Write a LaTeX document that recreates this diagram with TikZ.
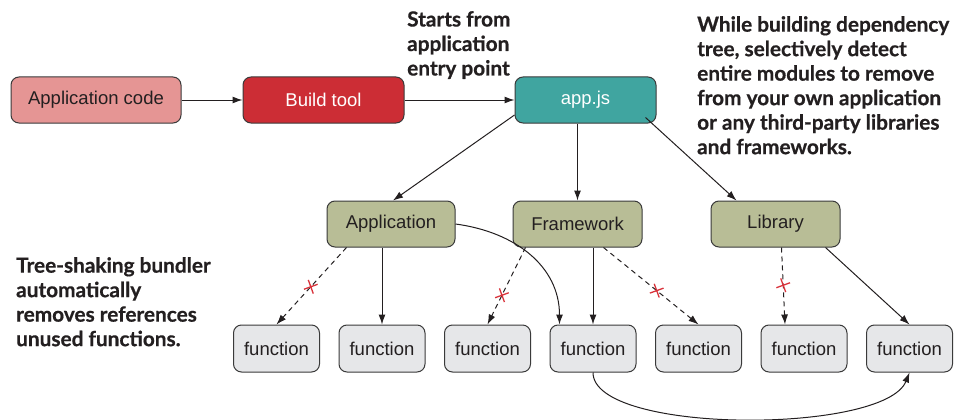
\documentclass[tikz,border=0pt]{standalone}
\usepackage{fontspec}
\setmainfont{Liberation Sans}
\newfontfamily\notefamily{Lato}[BoldFeatures={FakeBold=0.6}]
\usepackage{xcolor}
\usetikzlibrary{arrows.meta,positioning,shapes.misc}
\definecolor{inkdark}{HTML}{231F20}
\definecolor{boxline}{HTML}{3A3A3A}
\definecolor{codepink}{HTML}{E59594}
\definecolor{buildred}{HTML}{CC2D35}
\definecolor{entryteal}{HTML}{40A5A0}
\definecolor{modgreen}{HTML}{B8BD96}
\definecolor{fngray}{HTML}{E6E7E9}
\definecolor{cutred}{HTML}{D9323A}
\newcommand{\boxfont}{\fontsize{18.5}{20}\selectfont}
\newcommand{\notefont}{\notefamily\bfseries\fontsize{20.8}{24.5}\selectfont}
\tikzset{
  box/.style={draw=boxline, line width=1pt, rounded corners=8pt, font=\boxfont, text=inkdark, minimum height=46pt, inner sep=2pt},
  modbox/.style={box, fill=modgreen, minimum width=129pt},
  fnbox/.style={box, fill=fngray, minimum width=86pt, minimum height=47pt},
  note/.style={font=\notefont, text=inkdark, align=left, inner sep=0pt},
  farr/.style={-{Latex[length=10pt,width=7pt]}, line width=1pt, draw=inkdark},
  cutarr/.style={farr, dash pattern=on 5pt off 4pt},
  cut/.style={cross out, solid, draw=cutred, line width=1.3pt, minimum size=9pt, inner sep=0pt, rotate=-25}
}
\begin{document}
\begin{tikzpicture}[x=1pt, y=-1pt]
\useasboundingbox (0,0) rectangle (956,420);
% top row
\node[box, fill=codepink, minimum width=170pt] (code) at (96,100) {Application code};
\node[box, fill=buildred, text=white, minimum width=161pt, right=61pt of code] (build) {Build tool};
\node[box, fill=entryteal, text=white, minimum width=141pt, right=110pt of build] (entry) {app.js};
% modules
\node[modbox, minimum width=128pt] (app) at (391,224) {Application};
\node[modbox] (fw) at (577.5,224) {Framework};
\node[modbox] (lib) at (775.5,224) {Library};
% functions
\node[fnbox] (f1) at (276.5,348.5) {function};
\node[fnbox, right=18.5pt of f1] (f2) {function};
\node[fnbox, right=18.5pt of f2] (f3) {function};
\node[fnbox, right=18.5pt of f3] (f4) {function};
\node[fnbox, right=18.5pt of f4] (f5) {function};
\node[fnbox, right=18.5pt of f5] (f6) {function};
\node[fnbox, right=18.5pt of f6] (f7) {function};
% notes
\node[note, anchor=north west] (entrynote) at (407,11) {Starts from\\application\\entry point};
\node[note, anchor=north west] (treenote) at (697,16) {While building dependency\\tree, selectively detect\\entire modules to remove\\from your own application\\or any third-party libraries\\and frameworks.};
\node[note, anchor=north west] (shakenote) at (16,257) {Tree-shaking bundler\\automatically\\removes references\\unused functions.};
% connectors
\draw[farr] (code) -- (build);
\draw[farr] (build) -- (entry);
\draw[farr] ([yshift=-15pt]entry.west) -- ([xshift=2pt]app.north);
\draw[farr] (entry.south -| fw) -- (fw.north);
\draw[farr] ([xshift=-11pt,yshift=6pt]entry.south east) -- ([xshift=26pt]lib.north west);
\draw[cutarr] ([xshift=20pt]app.south west) -- node[cut, pos=0.51] {} (f1.north);
\draw[farr] (app.south -| f2) -- (f2.north);
\draw[farr] (app.east) .. controls +(60,8) and +(0,-58) .. ([xshift=10pt]f4.north west);
\draw[cutarr] ([xshift=13pt]fw.south west) -- node[cut, pos=0.62] {} (f3.north);
\draw[farr] (fw.south -| f4) -- (f4.north);
\draw[cutarr] ([xshift=26pt]fw.south) -- node[cut, pos=0.56] {} (f5.north);
\draw[cutarr] ([xshift=6pt]lib.south) -- node[cut, pos=0.49] {} ([xshift=-19pt]f6.north);
\draw[farr] ([xshift=-15pt]lib.south east) -- (f7.north);
\draw[farr] (f4.south) .. controls +(0,62) and +(-25,62) .. (f7.south);
\end{tikzpicture}
\end{document}
